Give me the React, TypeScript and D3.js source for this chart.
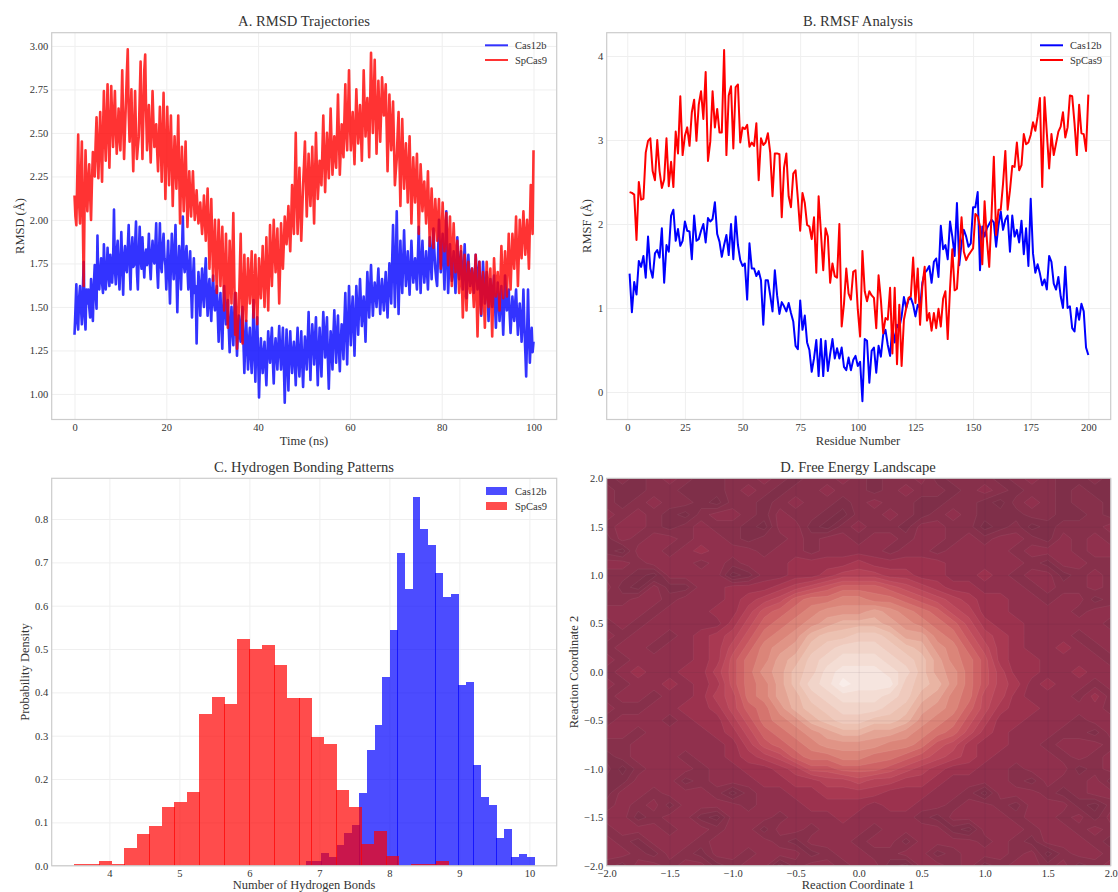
import React, { useEffect, useRef } from "react";
import * as d3 from "d3";

const WIDTH = 1118;
const HEIGHT = 892;
const FONT = "'Liberation Serif', serif";
const TEXT = "#333";

const rmsdStep = 0.2;
const rmsdCas12b = [
  1.34,1.48,1.63,1.42,1.37,1.55,1.62,1.50,1.40,1.58,1.76,1.45,1.37,1.60,1.52,1.60,1.50,1.44,1.66,1.55,1.42,1.62,1.74,1.58,1.49,
  1.91,1.62,1.60,1.71,1.78,1.64,1.58,1.86,1.72,1.60,1.68,1.84,1.70,1.62,1.80,1.74,1.64,1.75,2.06,1.72,1.63,1.82,1.88,1.70,1.60,
  1.76,1.93,1.74,1.57,1.78,1.85,1.72,1.70,1.84,1.97,1.76,1.60,1.82,1.90,1.73,1.74,1.86,1.99,1.70,1.60,1.80,1.96,1.78,1.72,1.90,
  1.76,1.67,1.80,1.83,1.74,1.78,1.92,1.75,1.66,1.80,1.88,1.77,1.75,1.85,1.98,1.72,1.61,1.80,1.98,1.74,1.70,1.85,1.92,1.78,1.74,
  1.60,1.76,1.88,1.70,1.52,1.74,1.92,1.78,1.66,1.82,1.97,1.70,1.47,1.72,1.85,1.76,1.60,1.80,2.02,1.75,1.70,1.78,1.85,1.72,1.60,
  1.72,1.82,1.60,1.44,1.66,1.78,1.58,1.62,1.29,1.55,1.70,1.60,1.45,1.62,1.72,1.56,1.50,1.68,1.78,1.58,1.45,1.60,1.66,1.50,1.42,
  1.60,1.68,1.52,1.48,1.58,1.62,1.46,1.30,1.50,1.58,1.40,1.26,1.48,1.62,1.50,1.40,1.50,1.54,1.38,1.24,1.40,1.50,1.36,1.28,1.46,
  1.58,1.40,1.22,1.36,1.45,1.34,1.30,1.42,1.50,1.30,1.12,1.30,1.42,1.28,1.14,1.30,1.38,1.22,1.12,1.28,1.54,1.24,1.07,1.30,1.44,
  1.22,0.98,1.18,1.32,1.20,1.12,1.24,1.30,1.16,1.05,1.22,1.36,1.26,1.18,1.30,1.38,1.20,1.06,1.24,1.32,1.22,1.14,1.28,1.39,1.24,
  1.14,1.26,1.38,1.18,0.95,1.20,1.37,1.18,1.02,1.24,1.36,1.22,1.12,1.24,1.30,1.18,1.05,1.26,1.38,1.20,1.10,1.24,1.36,1.18,1.04,
  1.20,1.33,1.24,1.14,1.30,1.47,1.26,1.08,1.28,1.40,1.30,1.17,1.32,1.44,1.22,1.05,1.24,1.38,1.24,1.10,1.30,1.47,1.34,1.21,1.34,
  1.44,1.20,1.03,1.22,1.36,1.26,1.14,1.34,1.48,1.32,1.18,1.34,1.45,1.26,1.13,1.30,1.40,1.32,1.20,1.42,1.58,1.36,1.17,1.40,1.62,
  1.44,1.28,1.46,1.56,1.40,1.22,1.44,1.62,1.48,1.34,1.50,1.66,1.52,1.39,1.48,1.56,1.44,1.30,1.52,1.70,1.56,1.44,1.60,1.74,1.58,
  1.45,1.56,1.64,1.58,1.50,1.62,1.72,1.58,1.46,1.58,1.66,1.56,1.48,1.60,1.70,1.56,1.44,1.60,1.75,1.62,1.52,1.76,1.97,1.72,1.50,
  1.76,2.05,1.74,1.46,1.68,1.88,1.70,1.58,1.76,1.94,1.76,1.62,1.72,1.82,1.68,1.57,1.72,1.88,1.74,1.64,1.72,1.78,1.68,1.60,1.78,
  1.96,1.76,1.58,1.74,1.88,1.74,1.64,1.72,1.82,1.70,1.60,1.76,1.90,1.78,1.66,1.82,1.95,1.82,1.72,1.66,1.62,1.80,2.00,1.84,1.70,
  1.82,1.92,1.76,1.60,1.82,2.05,1.80,1.58,1.72,1.86,1.74,1.65,1.74,1.82,1.68,1.58,1.74,1.90,1.76,1.66,1.74,1.82,1.70,1.60,1.72,
  1.86,1.70,1.55,1.68,1.80,1.70,1.62,1.68,1.72,1.64,1.58,1.68,1.80,1.70,1.60,1.68,1.76,1.60,1.45,1.62,1.76,1.64,1.52,1.62,1.70,
  1.58,1.42,1.56,1.66,1.58,1.50,1.60,1.68,1.52,1.38,1.52,1.64,1.54,1.42,1.54,1.62,1.48,1.34,1.50,1.68,1.58,1.48,1.54,1.60,1.46,
  1.35,1.46,1.56,1.48,1.42,1.52,1.60,1.46,1.34,1.44,1.52,1.44,1.30,1.42,1.60,1.40,1.25,1.10,1.34,1.60,1.36,1.18,1.30,1.38,1.24,
  1.30,
];
const rmsdSpCas9 = [
  2.14,2.02,1.97,2.24,2.49,2.10,1.98,2.26,2.45,2.02,1.62,2.10,2.40,2.20,2.05,2.22,2.32,2.14,2.00,2.22,2.39,2.30,2.25,2.44,2.59,
  2.38,2.24,2.44,2.62,2.40,2.22,2.50,2.74,2.50,2.34,2.56,2.78,2.50,2.30,2.54,2.77,2.58,2.42,2.60,2.74,2.52,2.38,2.50,2.64,2.48,
  2.40,2.62,2.86,2.56,2.35,2.52,2.68,2.84,2.98,2.62,2.45,2.60,2.75,2.48,2.28,2.52,2.74,2.50,2.35,2.42,2.48,2.70,2.91,2.60,2.35,
  2.60,2.86,2.95,2.62,2.40,2.54,2.66,2.48,2.33,2.52,2.74,2.56,2.42,2.50,2.55,2.40,2.28,2.46,2.65,2.44,2.22,2.48,2.73,2.40,2.12,
  2.40,2.65,2.42,2.20,2.42,2.60,2.34,2.08,2.30,2.48,2.32,2.18,2.38,2.60,2.28,1.98,2.22,2.42,2.22,2.05,2.26,2.45,2.20,1.96,2.12,
  2.28,2.14,2.02,2.16,2.28,2.12,2.00,2.08,2.17,2.06,1.98,2.04,2.10,2.00,1.92,2.02,2.14,2.00,1.88,2.04,2.18,1.96,1.72,1.94,2.12,
  1.88,1.65,1.84,2.00,1.78,1.58,1.80,2.00,1.82,1.62,1.80,1.96,1.72,1.48,1.70,1.92,1.66,1.38,1.62,1.88,1.70,1.52,1.78,2.04,1.68,
  1.34,1.58,1.26,1.40,1.48,1.70,1.92,1.60,1.29,1.56,1.80,1.58,1.42,1.60,1.78,1.64,1.52,1.66,1.82,1.60,1.44,1.62,1.80,1.58,1.40,
  1.58,1.78,1.66,1.55,1.70,1.85,1.66,1.50,1.70,1.90,1.68,1.48,1.72,1.97,1.78,1.62,1.80,2.00,1.84,1.70,1.82,1.95,1.72,1.52,1.74,
  1.98,1.84,1.72,1.86,2.02,1.94,1.86,1.96,2.08,1.94,1.82,2.00,2.20,2.04,1.92,2.20,2.50,2.16,1.92,2.10,2.30,2.08,1.88,2.04,2.20,
  2.32,2.45,2.22,2.02,2.20,2.38,2.22,2.08,2.24,2.42,2.18,1.98,2.24,2.50,2.30,2.12,2.22,2.34,2.26,2.20,2.40,2.60,2.36,2.16,2.34,
  2.50,2.36,2.24,2.44,2.64,2.44,2.26,2.36,2.48,2.38,2.30,2.50,2.72,2.48,2.26,2.40,2.55,2.44,2.36,2.58,2.78,2.50,2.40,2.62,2.86,
  2.56,2.40,2.52,2.62,2.46,2.32,2.54,2.75,2.58,2.44,2.54,2.66,2.50,2.34,2.58,2.86,2.66,2.48,2.60,2.70,2.54,2.36,2.66,2.96,2.70,
  2.50,2.70,2.92,2.64,2.38,2.58,2.80,2.62,2.45,2.62,2.82,2.70,2.60,2.68,2.78,2.54,2.28,2.50,2.72,2.54,2.40,2.54,2.68,2.44,2.20,
  2.28,2.35,2.50,2.62,2.34,2.08,2.34,2.58,2.36,2.18,2.32,2.44,2.28,2.10,2.30,2.48,2.24,1.98,2.18,2.36,2.22,2.10,2.24,2.38,2.16,
  1.92,2.12,2.32,2.20,2.05,2.14,2.22,2.10,1.98,2.12,2.28,2.06,1.85,2.02,2.18,2.02,1.84,1.98,2.12,2.00,1.88,2.00,2.12,1.92,1.72,
  1.92,2.10,1.96,1.82,1.94,2.04,1.88,1.74,1.90,2.02,1.84,1.62,1.82,1.98,1.84,1.70,1.80,1.88,1.72,1.58,1.72,1.85,1.64,1.44,1.62,
  1.80,1.64,1.48,1.62,1.76,1.66,1.58,1.66,1.72,1.60,1.50,1.66,1.80,1.56,1.33,1.56,1.76,1.60,1.46,1.60,1.70,1.54,1.38,1.58,1.76,
  1.62,1.50,1.62,1.72,1.52,1.33,1.56,1.78,1.66,1.56,1.64,1.70,1.60,1.48,1.66,1.85,1.70,1.55,1.68,1.82,1.70,1.56,1.74,1.92,1.76,
  1.60,1.76,1.92,1.82,1.72,1.86,2.02,1.82,1.62,1.80,2.00,1.88,1.78,1.92,2.05,1.92,1.80,1.90,2.00,1.86,1.72,1.96,2.20,2.06,1.92,
  2.40,
];

// B. RMSF per residue, 1 to 200
const rmsfCas12b = [
  1.41,0.95,1.31,1.16,1.56,1.49,1.62,1.36,1.85,1.47,1.36,1.65,1.69,1.60,1.95,1.30,1.75,1.67,2.10,2.17,
  1.80,1.94,1.74,1.80,2.03,1.92,1.91,1.58,2.10,1.80,1.82,1.92,2.00,1.78,2.07,2.03,2.06,2.26,1.88,1.79,
  1.61,1.75,1.87,1.63,2.00,1.58,2.09,1.75,1.57,1.50,1.53,1.10,1.77,1.47,1.47,1.38,1.44,1.33,0.80,1.33,
  1.33,1.15,0.96,1.45,1.15,0.93,1.07,1.02,0.96,1.06,0.94,0.84,0.55,0.51,1.09,0.74,0.91,0.59,0.50,0.24,
  0.40,0.62,0.19,0.63,0.19,0.61,0.25,0.45,0.63,0.40,0.52,0.40,0.53,0.30,0.26,0.41,0.26,0.38,0.43,0.31,
  0.36,-0.11,0.63,0.61,0.11,0.49,0.53,0.23,0.55,0.42,0.68,0.74,0.56,0.43,0.78,0.59,0.80,0.76,0.90,1.13,
  1.00,1.10,1.12,1.04,0.90,1.04,1.00,1.30,1.42,1.45,1.50,1.30,1.55,1.59,1.37,1.98,1.70,1.75,1.58,2.03,
  1.85,1.62,2.25,1.51,1.77,1.93,1.85,1.73,1.77,2.20,2.20,2.38,1.45,1.97,1.85,1.95,2.00,2.05,2.02,1.73,
  1.98,2.15,1.93,2.05,2.10,1.67,2.10,1.85,1.93,1.78,2.04,1.64,1.95,1.50,2.30,1.65,1.42,1.52,1.41,1.27,
  1.34,1.22,1.62,1.55,1.29,1.22,1.37,1.14,1.00,1.49,1.00,1.02,0.76,0.72,1.00,0.86,1.05,0.96,0.53,0.44,
];
const rmsfSpCas9 = [
  2.38,2.37,2.35,1.81,2.50,2.29,2.30,2.85,2.99,3.02,2.63,2.52,3.00,2.63,2.43,2.53,3.02,2.45,2.74,2.44,
  3.10,2.84,3.52,2.82,3.05,3.15,2.93,3.33,3.48,2.99,3.42,3.58,3.25,3.81,2.75,2.98,3.58,3.15,3.37,3.09,
  3.09,4.07,2.82,3.53,3.64,2.90,3.63,3.66,2.97,3.15,3.13,3.18,2.92,2.97,2.93,3.20,2.52,3.02,2.94,2.97,
  3.08,2.85,2.33,2.84,2.84,2.83,2.08,2.67,2.84,2.33,2.20,2.60,2.64,2.30,1.92,2.37,2.25,1.99,1.97,1.82,
  2.08,1.42,2.33,1.90,1.45,1.95,1.85,1.30,1.53,1.38,1.36,2.00,0.78,1.05,1.47,1.17,1.10,1.43,1.45,0.98,
  0.66,1.68,1.20,1.08,1.20,1.15,1.12,0.76,1.39,1.10,0.70,0.88,0.86,1.24,0.46,1.24,0.33,1.04,0.31,0.86,
  1.00,1.12,1.14,1.60,1.06,1.47,0.80,1.26,1.49,0.85,0.94,0.73,0.94,0.76,0.99,0.78,1.11,1.20,0.63,1.23,
  1.70,1.21,1.23,1.66,2.08,1.67,1.57,1.63,1.67,1.71,2.12,2.09,1.97,1.52,2.27,1.81,1.49,2.10,2.80,1.87,
  2.17,2.17,2.48,2.87,2.17,2.40,2.69,2.68,2.97,2.64,2.70,3.07,2.95,2.97,3.06,3.21,3.11,3.28,3.50,2.44,
  3.51,3.08,2.66,3.07,2.82,2.96,3.10,3.16,3.33,3.03,3.15,3.53,3.52,3.20,2.82,3.42,3.08,3.07,2.87,3.54,
];

// C. Hydrogen bond histograms, 30 bins each
const hbondCas12bRange = [6.81, 10.07];
const hbondCas12b = [
  0.01,0.01,0.03,0.02,0.047,0.075,0.093,0.167,0.268,0.324,0.435,0.545,0.721,0.638,0.85,
  0.776,0.739,0.675,0.619,0.628,0.416,0.425,0.232,0.158,0.139,0.065,0.084,0.019,0.028,0.019,
];
const hbondSpCas9Range = [3.497, 8.85];
const hbondSpCas9 = [
  0.005,0.005,0.01,0.005,0.04,0.073,0.091,0.135,0.146,0.17,0.35,0.389,0.373,0.523,0.50,
  0.51,0.463,0.388,0.388,0.298,0.28,0.174,0.135,0.05,0.079,0.022,0,0.005,0.005,0.01,
];

// D. Free energy surface as contour level, rows from y = 2 down to y = -2
const landscapeSize = 33;
const landscape = [
  [1,2,1,2,3,2,1,1,2,2,3,2,1,2,2,3,2,1,2,2,3,1,2,2,2,1,2,3,2,1,1,2,1],
  [2,1,1,2,2,1,1,1,2,3,2,1,2,2,3,2,2,1,2,3,2,2,1,2,3,2,1,2,2,1,2,1,1],
  [2,1,2,3,2,2,1,0,2,2,1,2,3,2,2,1,2,3,2,2,1,1,2,2,1,0,2,3,2,1,2,2,1],
  [3,2,3,2,1,0,2,3,3,2,1,3,2,2,1,0,2,2,3,2,1,2,3,2,1,1,1,2,2,1,1,2,1],
  [2,3,3,2,1,2,3,2,2,1,0,3,3,1,0,2,3,2,2,1,3,3,2,2,0,1,2,0,1,2,2,2,3],
  [1,3,2,3,3,2,3,3,2,1,2,2,3,2,3,3,2,3,3,2,3,3,2,3,2,3,3,2,1,3,2,3,2],
  [1,0,3,3,2,3,4,3,3,3,2,3,3,2,3,3,3,3,2,3,3,2,3,3,3,3,2,3,3,3,2,3,3],
  [3,3,2,3,3,3,2,3,2,3,3,3,4,4,4,4,5,4,4,4,4,4,3,3,3,3,3,2,1,3,3,2,2],
  [2,2,1,0,3,3,3,3,0,1,3,3,4,4,5,6,6,6,5,5,4,4,3,3,4,3,2,3,3,1,2,3,2],
  [3,1,0,3,1,1,3,3,4,4,4,5,6,7,8,9,9,9,8,7,6,5,4,4,3,3,3,2,3,2,2,3,2],
  [2,2,3,3,2,3,3,3,4,5,6,7,9,10,10,11,11,10,10,9,8,7,6,5,4,4,3,3,2,3,3,1,2],
  [3,3,3,2,3,3,3,4,4,6,8,9,10,11,12,12,12,13,12,11,10,9,7,6,4,4,3,3,3,3,2,3,3],
  [2,3,2,3,3,3,3,3,5,7,9,10,11,12,13,14,14,14,13,12,11,10,9,7,5,4,4,3,3,3,3,3,2],
  [3,2,3,3,2,3,4,5,6,8,10,11,12,14,15,15,16,16,15,13,13,11,10,8,6,5,4,3,3,3,2,3,3],
  [2,3,3,2,3,3,4,5,7,9,11,12,13,15,16,17,17,17,16,15,14,12,11,9,7,5,4,3,3,4,3,2,3],
  [3,2,3,3,3,3,4,5,8,10,11,13,14,16,17,18,18,18,17,16,15,13,11,10,8,5,4,4,3,3,3,3,2],
  [2,3,4,3,3,4,4,6,8,10,12,13,15,16,18,19,19,19,18,17,15,13,12,10,8,6,4,4,3,3,4,3,3],
  [3,2,3,3,4,3,4,5,8,10,11,13,15,17,18,20,19,19,19,16,15,14,12,10,8,6,5,3,4,3,3,2,3],
  [2,3,3,2,3,3,4,6,7,10,11,13,14,16,17,18,18,18,17,16,14,13,11,10,7,6,4,3,3,3,2,4,2],
  [3,2,2,3,3,4,4,5,7,9,10,12,14,15,16,17,17,17,16,15,13,12,11,9,7,5,4,4,3,3,3,3,2],
  [2,3,3,3,2,3,4,4,6,8,10,11,12,14,15,16,16,15,15,14,12,11,10,8,6,4,4,3,3,3,2,3,3],
  [3,3,2,3,3,3,3,4,5,7,9,10,11,12,13,14,14,13,13,12,11,10,9,7,5,4,3,3,3,2,2,1,3],
  [2,2,3,3,3,3,3,3,4,6,8,9,10,11,12,12,12,12,11,11,10,8,7,5,4,4,3,3,2,3,3,3,2],
  [1,2,3,3,3,2,3,3,4,5,6,7,9,10,10,11,11,10,10,9,8,7,6,5,4,3,3,3,3,2,3,2,3],
  [2,0,2,3,3,3,2,3,3,4,4,5,6,8,8,9,9,9,8,7,6,5,4,4,3,3,2,3,3,3,1,2,3],
  [1,1,3,3,3,1,2,3,3,3,4,4,5,5,6,6,7,6,6,5,5,4,3,3,3,3,2,1,3,2,2,3,1],
  [1,3,3,2,3,3,3,2,0,2,3,3,4,4,5,5,5,5,4,4,4,3,3,2,0,3,3,3,2,1,2,3,3],
  [2,3,2,3,1,3,3,3,3,2,3,3,3,4,4,4,4,3,4,4,3,3,2,3,3,2,1,3,3,3,1,0,2],
  [3,3,1,2,3,3,1,0,3,3,3,2,3,3,3,4,3,3,3,3,2,1,3,3,3,3,2,3,3,2,3,1,3],
  [2,3,3,3,2,3,3,2,3,3,1,3,3,2,3,3,3,2,3,3,3,3,1,0,3,3,3,2,3,3,2,3,2],
  [3,2,1,3,3,3,2,3,3,3,3,2,1,3,3,3,2,3,3,1,3,3,3,3,2,3,2,1,3,3,3,2,1],
  [3,3,2,1,3,2,1,3,3,2,3,3,3,1,2,3,3,2,2,3,3,1,2,3,3,3,2,3,0,2,3,3,2],
  [2,1,3,3,2,3,3,1,2,3,3,0,2,3,3,2,3,3,1,0,3,3,2,3,1,2,3,3,2,3,1,2,3],
];

const rmsdTimeTicks = [0, 20, 40, 60, 80, 100];
const rmsdValueTicks = [1, 1.25, 1.5, 1.75, 2, 2.25, 2.5, 2.75, 3];
const rmsfResidueTicks = [0, 25, 50, 75, 100, 125, 150, 175, 200];
const rmsfValueTicks = [0, 1, 2, 3, 4];
const hbondTicks = [4, 5, 6, 7, 8, 9, 10];
const densityTicks = [0, 0.1, 0.2, 0.3, 0.4, 0.5, 0.6, 0.7, 0.8];
const coordTicks = [-2, -1.5, -1, -0.5, 0, 0.5, 1, 1.5, 2];

const seriesNames = ["Cas12b", "SpCas9"];
const seriesColors = ["blue", "red"];

type Box = { left: number; right: number; top: number; bottom: number };
const boxA: Box = { left: 51.7, right: 556.7, top: 32.7, bottom: 419.5 };
const boxB: Box = { left: 606.7, right: 1110.7, top: 32.7, bottom: 419.5 };
const boxC: Box = { left: 51.7, right: 556.7, top: 478.3, bottom: 865.7 };
const boxD: Box = { left: 606.7, right: 1110.7, top: 478.3, bottom: 865.7 };

const label = (svg: any, text: string, x: number, y: number, size: number, rotate = false) => {
  const t = svg
    .append("text")
    .attr("text-anchor", "middle")
    .attr("font-size", size)
    .attr("fill", TEXT)
    .text(text);
  if (rotate) t.attr("transform", `translate(${x},${y}) rotate(-90)`);
  else t.attr("x", x).attr("y", y);
};

// grid and tick labels, goes under the marks
const drawAxes = (svg: any, box: Box, x: any, y: any, xTicks: number[], yTicks: number[], xFmt: string, yFmt: string, gridColor = "#efefef") => {
  const gx = svg
    .append("g")
    .attr("transform", `translate(0,${box.bottom})`)
    .call(
      d3.axisBottom(x).tickValues(xTicks).tickFormat(d3.format(xFmt)).tickSize(-(box.bottom - box.top)).tickPadding(4)
    );
  const gy = svg
    .append("g")
    .attr("transform", `translate(${box.left},0)`)
    .call(
      d3.axisLeft(y).tickValues(yTicks).tickFormat(d3.format(yFmt)).tickSize(-(box.right - box.left)).tickPadding(3.5)
    );
  [gx, gy].forEach((g) => {
    g.select(".domain").remove();
    g.selectAll("line").attr("stroke", gridColor).attr("stroke-width", 1);
    g.selectAll("text").attr("font-family", FONT).attr("font-size", 10.5).attr("fill", TEXT);
  });
};

const drawSpines = (svg: any, box: Box) => {
  svg
    .append("rect")
    .attr("x", box.left)
    .attr("y", box.top)
    .attr("width", box.right - box.left)
    .attr("height", box.bottom - box.top)
    .attr("fill", "none")
    .attr("stroke", "#ccc")
    .attr("stroke-width", 1.2);
};

const drawLineLegend = (svg: any, left: number, opacity: number) => {
  seriesNames.forEach((name, i) => {
    const ly = 45.3 + i * 14.7;
    svg.append("line").attr("x1", left).attr("x2", left + 23).attr("y1", ly).attr("y2", ly)
      .attr("stroke", seriesColors[i]).attr("stroke-width", 2).attr("stroke-opacity", opacity);
    svg.append("text").attr("x", left + 30).attr("y", ly + 3.5).attr("font-size", 10.5).attr("fill", TEXT).text(name);
  });
};

const drawRmsd = (svg: any) => {
  const x = d3.scaleLinear().domain([-4.97, 105.05]).range([boxA.left, boxA.right]);
  const y = d3.scaleLinear().domain([0.853, 3.076]).range([boxA.bottom, boxA.top]);
  drawAxes(svg, boxA, x, y, rmsdTimeTicks, rmsdValueTicks, "d", ".2f");
  const line = d3.line<number>().x((_, i) => x(i * rmsdStep)).y((d) => y(d));
  [rmsdCas12b, rmsdSpCas9].forEach((values, i) => {
    svg.append("path").attr("d", line(values)).attr("fill", "none")
      .attr("stroke", seriesColors[i]).attr("stroke-width", 2.6).attr("stroke-opacity", 0.8).attr("stroke-linejoin", "round");
  });
  drawSpines(svg, boxA);
  drawLineLegend(svg, 485, 0.8);
  label(svg, "A. RMSD Trajectories", 304, 26, 14.6);
  label(svg, "Time (ns)", 304, 445, 12.5);
  label(svg, "RMSD (Å)", 24, 226, 12.5, true);
};

const drawRmsf = (svg: any) => {
  const x = d3.scaleLinear().domain([-8.93, 209.7]).range([boxB.left, boxB.right]);
  const y = d3.scaleLinear().domain([-0.327, 4.277]).range([boxB.bottom, boxB.top]);
  drawAxes(svg, boxB, x, y, rmsfResidueTicks, rmsfValueTicks, "d", "d");
  const line = d3.line<number>().x((_, i) => x(i + 1)).y((d) => y(d));
  [rmsfCas12b, rmsfSpCas9].forEach((values, i) => {
    svg.append("path").attr("d", line(values)).attr("fill", "none")
      .attr("stroke", seriesColors[i]).attr("stroke-width", 2).attr("stroke-linejoin", "round");
  });
  drawSpines(svg, boxB);
  drawLineLegend(svg, 1040, 1);
  label(svg, "B. RMSF Analysis", 858, 26, 14.6);
  label(svg, "Residue Number", 858, 445, 12.5);
  label(svg, "RMSF (Å)", 591, 226, 12.5, true);
};

const drawHbonds = (svg: any) => {
  const x = d3.scaleLinear().domain([3.176, 10.39]).range([boxC.left, boxC.right]);
  const y = d3.scaleLinear().domain([0, 0.894]).range([boxC.bottom, boxC.top]);
  drawAxes(svg, boxC, x, y, hbondTicks, densityTicks, "d", ".1f");
  const bars = (values: number[], range: number[], color: string, seam: number) => {
    const step = (range[1] - range[0]) / values.length;
    svg.append("g").selectAll("rect").data(values).enter().append("rect")
      .attr("shape-rendering", "crispEdges")
      .attr("x", (_: number, i: number) => Math.round(x(range[0] + i * step)))
      .attr("width", (_: number, i: number) => Math.round(x(range[0] + (i + 1) * step) + seam) - Math.round(x(range[0] + i * step)))
      .attr("y", (d: number) => y(d))
      .attr("height", (d: number) => y(0) - y(d))
      .attr("fill", color)
      .attr("fill-opacity", 0.7);
  };
  bars(hbondCas12b, hbondCas12bRange, "blue", 0.3);
  bars(hbondSpCas9, hbondSpCas9Range, "red", 0.5);
  drawSpines(svg, boxC);
  seriesNames.forEach((name, i) => {
    const ly = 491 + i * 15;
    svg.append("rect").attr("x", 486).attr("y", ly - 4).attr("width", 21).attr("height", 8)
      .attr("fill", seriesColors[i]).attr("fill-opacity", 0.7);
    svg.append("text").attr("x", 515).attr("y", ly + 3.5).attr("font-size", 10.5).attr("fill", TEXT).text(name);
  });
  label(svg, "C. Hydrogen Bonding Patterns", 304, 472, 14.6);
  label(svg, "Number of Hydrogen Bonds", 304, 889, 12.5);
  label(svg, "Probability Density", 29, 672, 12.5, true);
};

const drawLandscape = (svg: any) => {
  const x = d3.scaleLinear().domain([-2, 2]).range([boxD.left, boxD.right]);
  const y = d3.scaleLinear().domain([-2, 2]).range([boxD.bottom, boxD.top]);
  const color = d3
    .scaleLinear<string>()
    .domain([0, 1, 2, 3, 4, 6, 8, 10, 12, 14, 16, 18, 20])
    .range(["#7a2e47", "#832f4a", "#8b304c", "#94304d", "#a3344f", "#ba465a", "#ca5a60", "#d87d73", "#e29c8c", "#ebbcab", "#f0cfc3", "#f5e1da", "#faf1ee"]);
  svg.append("clipPath").attr("id", "landscape-clip").append("rect")
    .attr("x", boxD.left).attr("y", boxD.top)
    .attr("width", boxD.right - boxD.left).attr("height", boxD.bottom - boxD.top);
  const plot = svg.append("g").attr("clip-path", "url(#landscape-clip)");
  plot.append("rect").attr("x", boxD.left).attr("y", boxD.top)
    .attr("width", boxD.right - boxD.left).attr("height", boxD.bottom - boxD.top)
    .attr("fill", color(0));
  const thresholds = d3.range(0.5, 20.5, 1);
  const contours = d3.contours().size([landscapeSize, landscapeSize]).thresholds(thresholds)(landscape.flat());
  const cell = 4 / (landscapeSize - 1);
  const project = d3.geoTransform({
    point(px: number, py: number) {
      (this as any).stream.point(x(-2 + (px - 0.5) * cell), y(2 - (py - 0.5) * cell));
    },
  });
  const path = d3.geoPath(project);
  plot.selectAll("path.level").data(contours).enter().append("path")
    .attr("class", "level")
    .attr("d", (d: any) => path(d))
    .attr("fill", (d: any) => color(d.value))
    .attr("stroke", "#fff")
    .attr("stroke-opacity", 0.12)
    .attr("stroke-width", 0.5);
  drawAxes(svg, boxD, x, y, coordTicks, coordTicks, ".1f", ".1f", "rgba(70,40,70,0.08)");
  drawSpines(svg, boxD);
  label(svg, "D. Free Energy Landscape", 858, 472, 14.6);
  label(svg, "Reaction Coordinate 1", 858, 889, 12.5);
  label(svg, "Reaction Coordinate 2", 578, 672, 12.5, true);
};

const App = () => {
  const ref = useRef<SVGSVGElement | null>(null);

  useEffect(() => {
    const svg = d3.select(ref.current);
    svg.selectAll("*").remove();
    drawRmsd(svg);
    drawRmsf(svg);
    drawHbonds(svg);
    drawLandscape(svg);
  }, []);

  return (
    <svg
      ref={ref}
      width={WIDTH}
      height={HEIGHT}
      fontFamily={FONT}
      style={{ position: "absolute", left: 0, top: 0, background: "#fff" }}
    />
  );
};

export default App;
